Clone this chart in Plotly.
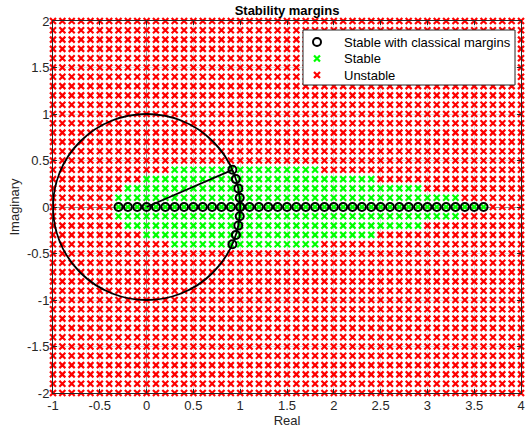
import plotly.graph_objects as go

# ---- data ----
grid_real = [-1.0, -0.9, -0.8, -0.7, -0.6, -0.5, -0.4, -0.3, -0.2, -0.1,
             0.0, 0.1, 0.2, 0.3, 0.4, 0.5, 0.6, 0.7, 0.8, 0.9,
             1.0, 1.1, 1.2, 1.3, 1.4, 1.5, 1.6, 1.7, 1.8, 1.9,
             2.0, 2.1, 2.2, 2.3, 2.4, 2.5, 2.6, 2.7, 2.8, 2.9,
             3.0, 3.1, 3.2, 3.3, 3.4, 3.5, 3.6, 3.7, 3.8, 3.9, 4.0]
grid_imag = [2.0, 1.9, 1.8, 1.7, 1.6, 1.5, 1.4, 1.3, 1.2, 1.1,
             1.0, 0.9, 0.8, 0.7, 0.6, 0.5, 0.4, 0.3, 0.2, 0.1,
             0.0, -0.1, -0.2, -0.3, -0.4, -0.5, -0.6, -0.7, -0.8, -0.9,
             -1.0, -1.1, -1.2, -1.3, -1.4, -1.5, -1.6, -1.7, -1.8, -1.9, -2.0]

# stable band per imaginary row: (row, lowest stable real part, highest stable real part)
stable_row_imag = [0.4, 0.3, 0.2, 0.1, 0.0, -0.1, -0.2, -0.3, -0.4]
stable_row_low = [0.3, 0.0, -0.2, -0.3, -0.3, -0.3, -0.2, 0.0, 0.3]
stable_row_high = [1.8, 2.4, 2.9, 3.3, 3.6, 3.3, 2.9, 2.4, 1.8]

# points stable with classical margins
gm_real = [-0.3, -0.2, -0.1, 0.0, 0.1, 0.2, 0.3, 0.4, 0.5, 0.6, 0.7, 0.8, 0.9,
           1.0, 1.1, 1.2, 1.3, 1.4, 1.5, 1.6, 1.7, 1.8, 1.9, 2.0, 2.1, 2.2,
           2.3, 2.4, 2.5, 2.6, 2.7, 2.8, 2.9, 3.0, 3.1, 3.2, 3.3, 3.4, 3.5, 3.6]
gm_imag = [0.0] * len(gm_real)
pm_real = [0.917, 0.954, 0.980, 0.995, 1.0, 0.995, 0.980, 0.954, 0.917]
pm_imag = [0.4, 0.3, 0.2, 0.1, 0.0, -0.1, -0.2, -0.3, -0.4]

unit_radius = 1.0

x_ticks = [-1, -0.5, 0, 0.5, 1, 1.5, 2, 2.5, 3, 3.5, 4]
y_ticks = [-2, -1.5, -1, -0.5, 0, 0.5, 1, 1.5, 2]

legend_labels = ["Stable with classical margins", "Stable", "Unstable"]

# ---- classify grid ----
stable_x, stable_y, unstable_x, unstable_y = [], [], [], []
for yi in grid_imag:
    band = None
    for r, lo, hi in zip(stable_row_imag, stable_row_low, stable_row_high):
        if abs(r - yi) < 1e-9:
            band = (lo, hi)
    for xi in grid_real:
        if band and band[0] - 1e-9 <= xi <= band[1] + 1e-9:
            stable_x.append(xi); stable_y.append(yi)
        else:
            unstable_x.append(xi); unstable_y.append(yi)

font = "Liberation Sans, Arial, Helvetica, sans-serif"
RED, GREEN = "#ff0000", "#00ff00"
x_marker = dict(symbol="x-thin", size=6)
XW = 2.2
circ_marker = dict(symbol="circle-open", size=8, color="black",
                   line=dict(color="black", width=2))

fig = go.Figure()

fig.add_trace(go.Scatter(
    x=unstable_x, y=unstable_y, mode="markers", name=legend_labels[2],
    cliponaxis=False, showlegend=False,
    marker=dict(**x_marker, color=RED, line=dict(color=RED, width=XW))))
fig.add_trace(go.Scatter(
    x=stable_x, y=stable_y, mode="markers", name=legend_labels[1],
    cliponaxis=False, showlegend=False,
    marker=dict(**x_marker, color=GREEN, line=dict(color=GREEN, width=XW))))
fig.add_trace(go.Scatter(
    x=[0, pm_real[0]], y=[0, pm_imag[0]], mode="lines", showlegend=False,
    line=dict(color="black", width=1.8)))
fig.add_trace(go.Scatter(
    x=gm_real + pm_real, y=gm_imag + pm_imag, mode="markers",
    name=legend_labels[0], showlegend=False, cliponaxis=False, marker=circ_marker))

fig.add_shape(type="circle", xref="x", yref="y",
              x0=-unit_radius, y0=-unit_radius, x1=unit_radius, y1=unit_radius,
              line=dict(color="black", width=1.8), layer="above")

# ---- legend drawn in a pixel-space overlay (x2/y2) ----
L_LEFT, L_RIGHT, L_TOP, L_BOTTOM = 303, 515, 30, 85
row_y = [42, 58.5, 75]
fig.add_trace(go.Scatter(
    x=[L_LEFT, L_RIGHT, L_RIGHT, L_LEFT, L_LEFT],
    y=[L_TOP, L_TOP, L_BOTTOM, L_BOTTOM, L_TOP],
    xaxis="x2", yaxis="y2", mode="lines", fill="toself", fillcolor="white",
    line=dict(color="#262626", width=1), showlegend=False, hoverinfo="skip"))
fig.add_trace(go.Scatter(x=[317], y=[row_y[0]], xaxis="x2", yaxis="y2", mode="markers",
                         marker=circ_marker, showlegend=False, hoverinfo="skip"))
fig.add_trace(go.Scatter(x=[317], y=[row_y[1]], xaxis="x2", yaxis="y2", mode="markers",
                         marker=dict(**x_marker, color=GREEN, line=dict(color=GREEN, width=XW)),
                         showlegend=False, hoverinfo="skip"))
fig.add_trace(go.Scatter(x=[317], y=[row_y[2]], xaxis="x2", yaxis="y2", mode="markers",
                         marker=dict(**x_marker, color=RED, line=dict(color=RED, width=XW)),
                         showlegend=False, hoverinfo="skip"))
for lab, ry in zip(legend_labels, row_y):
    fig.add_annotation(x=342, y=ry, xref="x2", yref="y2", text=lab, showarrow=False,
                       xanchor="left", yanchor="middle",
                       font=dict(family=font, size=13, color="black"))

axis_common = dict(
    showline=True, linecolor="#262626", linewidth=1, mirror="ticks",
    ticks="inside", ticklen=4, tickcolor="#262626",
    showgrid=True, gridcolor="#dedede", gridwidth=1,
    zeroline=True, zerolinecolor="#8c8c8c", zerolinewidth=1,
    tickfont=dict(family=font, size=13, color="#262626"),
    automargin=False,
)

fig.update_layout(
    width=526, height=432,
    margin=dict(l=53, r=5, t=21, b=39),
    paper_bgcolor="white", plot_bgcolor="white",
    showlegend=False,
    title=dict(text="<b>Stability margins</b>", x=0.5, xref="paper",
               y=1 - 10 / 432, yref="container", yanchor="middle",
               font=dict(family=font, size=13, color="black")),
    xaxis=dict(range=[-1, 4], tickvals=x_ticks,
               ticktext=[f"{v:g}" for v in x_ticks],
               title=dict(text="Real", font=dict(family=font, size=13, color="#262626"),
                          standoff=3),
               **axis_common),
    yaxis=dict(range=[-2, 2], tickvals=y_ticks,
               ticktext=[f"{v:g}" for v in y_ticks],
               title=dict(text="Imaginary", font=dict(family=font, size=13, color="#262626"),
                          standoff=4),
               **axis_common),
    xaxis2=dict(overlaying="x", range=[53, 521], visible=False, fixedrange=True),
    yaxis2=dict(overlaying="y", range=[393, 21], visible=False, fixedrange=True),
)

fig.write_html("out.html",
               config={"displayModeBar": False, "staticPlot": True},
               post_script="document.body.style.margin='0';document.body.style.overflow='hidden';")
